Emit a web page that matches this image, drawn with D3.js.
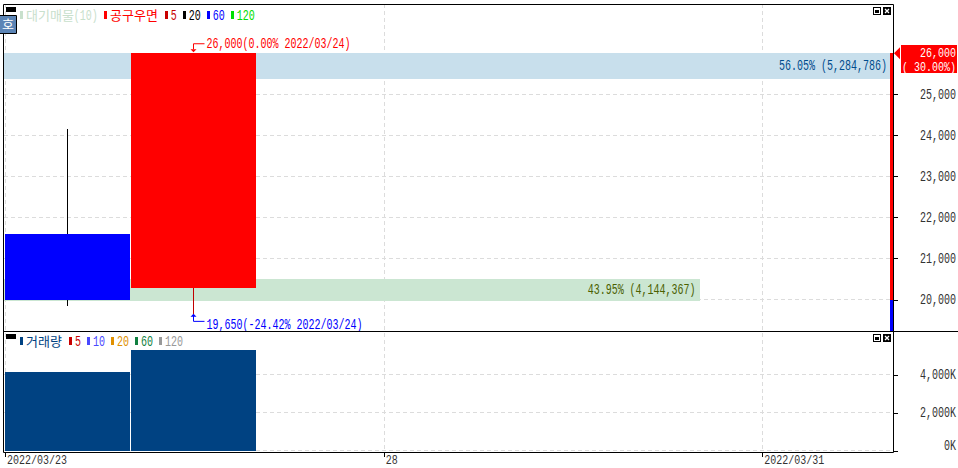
<!DOCTYPE html>
<html>
<head>
<meta charset="utf-8">
<script src="https://cdn.jsdelivr.net/npm/d3@7"></script>
<style>
  html, body { margin: 0; padding: 0; background: #fff; }
  svg { display: block; }
  rect, line { shape-rendering: crispEdges; }
  .mono { font-family: "Liberation Mono", monospace; }
  .kr { font-family: "Noto Sans CJK KR", sans-serif; font-size: 13px; }
</style>
</head>
<body>
<div id="chart"></div>
<script>
// data
const dates = ['2022/03/23', '2022/03/24', '2022/03/25', '2022/03/28', '2022/03/29', '2022/03/30', '2022/03/31'];
const candleDates = ['2022/03/23', '2022/03/24'];
const opens = [21600, 20280];
const highs = [24150, 26000];
const lows = [19850, 19650];
const closes = [20000, 26000];
const volumes = [4144367, 5284786];
const priceTicks = [20000, 21000, 22000, 23000, 24000, 25000];
const volumeTicks = [0, 2000000, 4000000];
const profileFrom = [25370, 19970];
const profileTo = [26000, 20500];
const profileVolumes = [5284786, 4144367];
const profileLabels = ['56.05% (5,284,786)', '43.95% (4,144,367)'];
const dateTicks = [['2022/03/23', '2022/03/23'], ['2022/03/28', '28'], ['2022/03/31', '2022/03/31']];
const priceLegend = [['5', '#c80000'], ['20', '#000'], ['60', '#0000ff'], ['120', '#00e000']];
const volumeLegend = [['5', '#c80000'], ['10', '#4848ff'], ['20', '#e09000'], ['60', '#108040'], ['120', '#999']];

const width = 958, height = 468;
const frameL = 4, frameR = 893, frameT = 4, split = 331, frameB = 452;
const charW = 6; // the terminal font is 6px per character

const svg = d3.select('#chart').append('svg').attr('width', width).attr('height', height);

const x = d3.scaleBand().domain(dates).range([5, 888.5]);
const y = d3.scaleLinear().domain([20000, 25000]).range([299.5, 94.3]);
const yVol = d3.scaleLinear().domain([0, 4000000]).range([450.5, 374.5]);
const xProfile = d3.scaleLinear().domain([0, 5284786]).range([frameL, 891]);

// squeeze latin text to the fixed character width, scaling around its own x
function mono(sel, size = 14) {
  const sx = charW / (size * 0.6);
  return sel.classed('mono', true)
    .style('font-size', size + 'px')
    .attr('transform', function () {
      const px = +this.getAttribute('x');
      return `translate(${px},0) scale(${sx},1) translate(${-px},0)`;
    });
}

// grid
const grid = svg.append('g').attr('stroke', '#dcdcdc').attr('stroke-dasharray', '4 3');
grid.selectAll('.gy').data(priceTicks).join('line').attr('class', 'gy')
  .attr('x1', frameL).attr('x2', frameR).attr('y1', d => y(d)).attr('y2', d => y(d));
grid.selectAll('.gv').data(volumeTicks).join('line').attr('class', 'gv')
  .attr('x1', frameL).attr('x2', frameR).attr('y1', d => yVol(d)).attr('y2', d => yVol(d));
grid.selectAll('.gx').data(dateTicks).join('line').attr('class', 'gx')
  .attr('x1', d => x(d[0]) + 0.5).attr('x2', d => x(d[0]) + 0.5).attr('y1', frameT).attr('y2', frameB);

// price profile bands
svg.append('g').selectAll('rect').data(profileVolumes).join('rect')
  .attr('x', frameL)
  .attr('width', d => xProfile(d) - frameL)
  .attr('y', (d, i) => y(profileTo[i]))
  .attr('height', (d, i) => y(profileFrom[i]) - y(profileTo[i]))
  .attr('fill', (d, i) => i === 0 ? '#c8dfec' : '#cbe6d2');

svg.append('g').selectAll('text').data(profileLabels).join('text')
  .attr('x', (d, i) => xProfile(profileVolumes[i]) - 4)
  .attr('y', (d, i) => y((profileFrom[i] + profileTo[i]) / 2) + 4)
  .attr('text-anchor', 'end')
  .attr('fill', (d, i) => i === 0 ? '#004c8c' : '#4a6000')
  .text(d => d)
  .call(mono);

// candles
const candleColor = i => closes[i] >= opens[i] ? '#ff0000' : '#0000ff';
const candles = svg.append('g');
candles.selectAll('line').data(candleDates).join('line')
  .attr('x1', d => x(d) + 62.5).attr('x2', d => x(d) + 62.5)
  .attr('y1', (d, i) => y(highs[i])).attr('y2', (d, i) => y(lows[i]))
  .attr('stroke', (d, i) => i === 0 ? '#000' : '#c00000');
candles.selectAll('rect').data(candleDates).join('rect')
  .attr('x', d => x(d))
  .attr('width', 125)
  .attr('y', (d, i) => y(Math.max(opens[i], closes[i])))
  .attr('height', (d, i) => Math.abs(y(opens[i]) - y(closes[i])))
  .attr('fill', (d, i) => candleColor(i));

// volume bars
svg.append('g').selectAll('rect').data(candleDates).join('rect')
  .attr('x', d => x(d))
  .attr('width', 125)
  .attr('y', (d, i) => yVol(volumes[i]))
  .attr('height', (d, i) => yVol(0) - yVol(volumes[i]))
  .attr('fill', '#004282');

// high / low callouts
const hiX = Math.floor(x(candleDates[1]) + 62) + 0.5;
svg.append('path').attr('fill', 'none').attr('stroke', '#ff0000')
  .attr('d', `M${hiX},${y(26000) - 4}V${y(26000) - 9.5}H${hiX + 11}`);
svg.append('path').attr('fill', '#ff0000')
  .attr('d', `M${hiX - 3},${y(26000) - 4}h6l-3,3z`);
svg.append('text').attr('x', hiX + 13).attr('y', y(26000) - 5).attr('fill', '#ff0000')
  .text('26,000(0.00% 2022/03/24)').call(mono);
svg.append('path').attr('fill', 'none').attr('stroke', '#0000ff')
  .attr('d', `M${hiX},${y(19650) + 2}V${y(19650) + 7.5}H${hiX + 11}`);
svg.append('path').attr('fill', '#0000ff')
  .attr('d', `M${hiX - 3},${y(19650) + 3}h6l-3,-3z`);
svg.append('text').attr('x', hiX + 13).attr('y', y(19650) + 15).attr('fill', '#0000ff')
  .text('19,650(-24.42% 2022/03/24)').call(mono);

// current price bar on the right edge
svg.append('rect').attr('x', 890).attr('width', 3).attr('y', y(26000)).attr('height', y(20000) - y(26000)).attr('fill', '#ff0000');
svg.append('rect').attr('x', 890).attr('width', 3).attr('y', y(20000)).attr('height', split - y(20000)).attr('fill', '#0000ff');

// frame
const frame = svg.append('g').attr('stroke', '#000').attr('fill', 'none');
frame.append('path').attr('d', `M${frameL - 0.5},${frameT + 0.5}H${frameR + 0.5}V${frameB + 0.5}H${frameL - 0.5}Z`);
frame.append('line').attr('x1', frameL - 1).attr('x2', width).attr('y1', split + 0.5).attr('y2', split + 0.5);

// axes
const priceAxis = d3.axisRight(y).tickValues(priceTicks).tickSize(4).tickFormat(d3.format(','));
const volAxis = d3.axisRight(yVol).tickValues(volumeTicks).tickSize(4).tickFormat(d => d3.format(',')(d / 1000) + 'K');
[priceAxis, volAxis].forEach(axis => {
  const g = svg.append('g').attr('transform', `translate(${frameR + 0.5},0)`).call(axis);
  g.attr('font-family', null).attr('font-size', null);
  g.select('.domain').remove();
  g.selectAll('.tick line').attr('stroke', '#000');
  g.selectAll('.tick text').attr('x', 62.5).attr('dy', 3.7).attr('text-anchor', 'end').attr('fill', '#333').call(mono);
  // the bottom label is pushed up so it stays in the panel
  g.selectAll('.tick text').filter(d => d === 0).attr('dy', -1.5);
});

// date axis
const dateG = svg.append('g');
dateG.selectAll('line').data(dateTicks).join('line')
  .attr('x1', d => x(d[0]) + 0.5).attr('x2', d => x(d[0]) + 0.5)
  .attr('y1', frameB).attr('y2', frameB + 5).attr('stroke', '#000');
dateG.selectAll('text').data(dateTicks).join('text')
  .attr('x', d => x(d[0]) + 2).attr('y', 464).attr('fill', '#333').text(d => d[1]).call(mono, 13);

// current price tag
svg.append('path').attr('fill', '#ff0000').attr('d', `M894,${y(26000)}l6,-6v12z`);
svg.append('rect').attr('x', 901).attr('y', 45).attr('width', 56).attr('height', 28).attr('fill', '#ff0000');
svg.append('text').attr('x', 956).attr('y', 57).attr('text-anchor', 'end').attr('fill', '#fff').text('26,000').call(mono, 12);
svg.append('text').attr('x', 956).attr('y', 71).attr('text-anchor', 'end').attr('fill', '#fff').text('( 30.00%)').call(mono, 12);

// legends
function legend(yPos, startX, title, suffix, titleColor, items) {
  let cx = startX;
  const g = svg.append('g');
  const titleText = g.append('text').attr('class', 'kr').attr('x', cx + 6).attr('y', yPos + 5)
    .attr('fill', titleColor).text(title);
  g.append('rect').attr('x', cx).attr('y', yPos - 4).attr('width', 3).attr('height', 8).attr('fill', titleColor);
  cx += 6 + titleText.node().getComputedTextLength();
  if (suffix) {
    g.append('text').attr('x', cx).attr('y', yPos + 5).attr('fill', titleColor).text(suffix).call(mono);
    cx += suffix.length * charW;
  }
  cx += 7;
  items.forEach(([label, color]) => {
    g.append('rect').attr('x', cx).attr('y', yPos - 4).attr('width', 3).attr('height', 8).attr('fill', color);
    g.append('text').attr('x', cx + 6).attr('y', yPos + 5).attr('fill', color).text(label).call(mono);
    cx += 6 + label.length * charW + 6;
  });
}
legend(15, 20, '대기매물', '(10)', '#c8e0cc', []);
legend(15, 104, '공구우면', '', '#ff0000', priceLegend);
legend(341, 20, '거래량', '', '#004282', volumeLegend);

// window controls
function controls(cy) {
  const g = svg.append('g');
  g.append('rect').attr('x', 873).attr('y', cy).attr('width', 8).attr('height', 8).attr('fill', '#000');
  g.append('rect').attr('x', 874).attr('y', cy + 1).attr('width', 6).attr('height', 6).attr('fill', '#fff');
  g.append('rect').attr('x', 875).attr('y', cy + 3).attr('width', 4).attr('height', 3).attr('fill', '#000');
  g.append('rect').attr('x', 883).attr('y', cy).attr('width', 8).attr('height', 8).attr('fill', '#000');
  g.append('path').attr('d', `M885,${cy + 2}l4,4m0,-4l-4,4`).attr('stroke', '#fff').attr('stroke-width', 1.3);
}
controls(7);
controls(334);

// panel grips
svg.append('rect').attr('x', 6).attr('y', 7).attr('width', 10).attr('height', 5).attr('fill', '#000');
svg.append('rect').attr('x', 6).attr('y', 334).attr('width', 10).attr('height', 5).attr('fill', '#000');

// side tab
svg.append('rect').attr('x', 0).attr('y', 15).attr('width', 16).attr('height', 18).attr('fill', '#5b84b5');
svg.append('path').attr('fill', 'none').attr('stroke', '#000').attr('d', 'M0,15.5H16.5V33.5H0');
svg.append('text').attr('class', 'kr').attr('x', 8).attr('y', 29).attr('text-anchor', 'middle').attr('fill', '#fff').text('호');
</script>
</body>
</html>
